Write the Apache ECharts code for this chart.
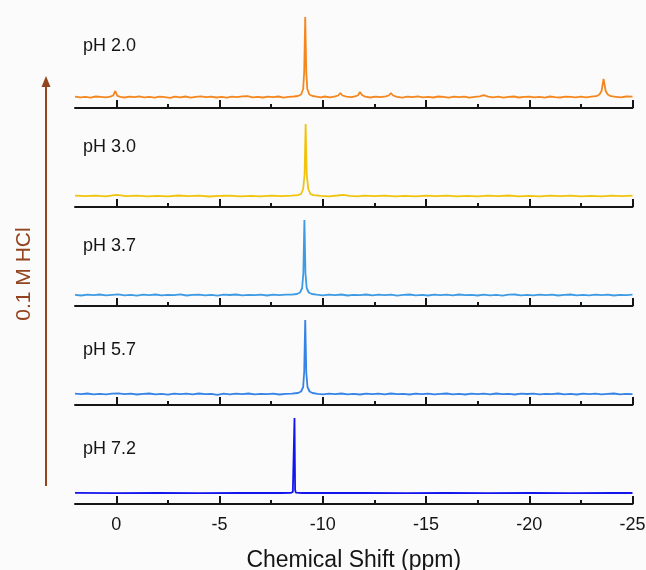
<!DOCTYPE html>
<html>
<head>
<meta charset="utf-8">
<script src="https://cdn.jsdelivr.net/npm/echarts@6/dist/echarts.min.js"></script>
<style>
  html, body { margin: 0; padding: 0; background: #ffffff; }
  #chart { width: 646px; height: 570px; }
</style>
</head>
<body>
<div id="chart"></div>
<script>
// Sample labels, top to bottom
const samples = ['pH 2.0', 'pH 3.0', 'pH 3.7', 'pH 5.7', 'pH 7.2'];

// Tick positions on the chemical-shift axis (ppm)
const majorTicks = [0, -5, -10, -15, -20, -25];
const minorTicks = [-2.5, -7.5, -12.5, -17.5, -22.5];

// Spectra as [chemical shift (ppm), intensity]
const specPH20 = [
  [2.0,0.4],[1.75,-0.3],[1.5,0.2],[1.25,-0.6],[1.0,0.5],[0.75,0.1],[0.5,-0.4],[0.3,0.3],[0.15,1.5],
  [0.05,6],[-0.05,1.2],[-0.2,0.2],[-0.4,-0.5],[-0.65,0.3],[-0.9,-0.2],[-1.1,0.6],[-1.35,-0.4],
  [-1.6,0.1],[-1.85,-0.7],[-2.1,0.4],[-2.35,-0.1],[-2.6,-0.8],[-2.85,0.3],[-3.1,-0.3],[-3.35,0.5],
  [-3.6,-0.6],[-3.85,0.2],[-4.1,0.7],[-4.35,-0.2],[-4.6,0.4],[-4.85,-0.5],[-5.1,0.1],[-5.35,-0.7],
  [-5.6,0.3],[-5.85,-0.1],[-6.1,0.6],[-6.35,0.9],[-6.6,-0.3],[-6.85,0.2],[-7.1,-0.5],[-7.35,0.4],
  [-7.6,-0.2],[-7.85,0.5],[-8.1,-0.6],[-8.35,0.2],[-8.6,0.5],[-8.8,1.0],[-8.95,2.5],[-9.05,8],
  [-9.1,25],[-9.15,80],[-9.2,25],[-9.25,8],[-9.35,2.5],[-9.5,1.0],[-9.7,0.4],[-9.9,-0.3],[-10.1,0.5],
  [-10.35,-0.4],[-10.6,0.6],[-10.75,1.5],[-10.85,4],[-10.95,1.5],[-11.15,0.3],[-11.4,-0.2],
  [-11.6,0.8],[-11.72,2],[-11.8,5],[-11.9,2],[-12.05,0.3],[-12.3,-0.5],[-12.55,0.3],[-12.8,-0.2],
  [-13.05,0.6],[-13.2,1.5],[-13.3,4],[-13.4,1.5],[-13.6,0.1],[-13.85,-0.6],[-14.1,0.3],[-14.35,-0.2],
  [-14.6,0.6],[-14.85,-0.4],[-15.1,0.2],[-15.35,-0.5],[-15.6,0.5],[-15.85,0.1],[-16.1,-0.6],
  [-16.35,0.3],[-16.6,-0.2],[-16.85,0.4],[-17.1,-0.7],[-17.35,0.2],[-17.6,0.6],[-17.8,1.8],
  [-18.0,0.3],[-18.25,-0.4],[-18.5,0.3],[-18.75,-0.6],[-19.0,0.2],[-19.25,0.5],[-19.5,-0.5],
  [-19.75,0.1],[-20.0,0.4],[-20.25,-0.3],[-20.5,0.2],[-20.75,-0.6],[-21.0,0.5],[-21.25,-0.1],
  [-21.5,-0.5],[-21.75,0.3],[-22.0,0.1],[-22.25,-0.4],[-22.5,0.4],[-22.75,-0.3],[-23.0,0.3],
  [-23.25,0.8],[-23.4,2.5],[-23.5,6],[-23.6,18],[-23.7,6],[-23.8,2.5],[-23.95,0.8],[-24.2,0.2],
  [-24.45,-0.4],[-24.7,0.5],[-25.0,0.3]
];
const specPH30 = [
  [2.0,0.3],[1.5,-0.2],[1.0,0.4],[0.5,-0.3],[0.0,1.2],[-0.5,-0.2],[-1.0,0.3],[-1.5,-0.4],[-2.0,0.2],
  [-2.5,-0.3],[-3.0,0.5],[-3.5,-0.2],[-4.0,0.3],[-4.5,-0.5],[-5.0,0.2],[-5.5,0.4],[-6.0,-0.3],
  [-6.5,0.2],[-7.0,-0.4],[-7.5,0.3],[-8.0,-0.2],[-8.5,0.4],[-8.8,0.8],[-8.95,2],[-9.05,7],[-9.12,22],
  [-9.17,72],[-9.22,22],[-9.3,7],[-9.4,2],[-9.55,0.8],[-9.9,0.2],[-10.3,-0.3],[-10.7,0.5],[-11.0,1.2],
  [-11.3,0.2],[-11.7,-0.4],[-12.0,0.3],[-12.5,-0.2],[-13.0,0.4],[-13.5,-0.3],[-14.0,0.2],[-14.5,-0.4],
  [-15.0,0.3],[-15.5,-0.2],[-16.0,0.4],[-16.5,-0.3],[-17.0,0.2],[-17.5,-0.4],[-18.0,0.3],[-18.5,-0.2],
  [-19.0,0.5],[-19.5,-0.3],[-20.0,0.2],[-20.5,-0.4],[-21.0,0.3],[-21.5,-0.2],[-22.0,0.4],[-22.5,-0.3],
  [-23.0,0.2],[-23.5,-0.4],[-24.0,0.3],[-24.5,-0.2],[-25.0,0.3]
];
const specPH37 = [
  [2.0,0.2],[1.7,-0.5],[1.4,0.3],[1.1,-0.1],[0.8,0.5],[0.5,-0.4],[0.2,0.1],[-0.1,0.6],[-0.4,-0.3],
  [-0.7,0.2],[-1.0,-0.6],[-1.3,0.4],[-1.6,-0.1],[-1.9,0.5],[-2.2,-0.4],[-2.5,0.2],[-2.8,-0.2],
  [-3.1,0.6],[-3.4,-0.5],[-3.7,0.1],[-4.0,0.4],[-4.3,-0.3],[-4.6,0.2],[-4.9,-0.6],[-5.2,0.3],
  [-5.5,0.0],[-5.8,0.5],[-6.1,-0.4],[-6.4,0.2],[-6.7,-0.2],[-7.0,0.4],[-7.3,-0.5],[-7.6,0.3],
  [-7.9,-0.1],[-8.2,0.4],[-8.5,0.3],[-8.75,1.0],[-8.9,2.5],[-9.0,7],[-9.06,22],[-9.11,75],
  [-9.16,22],[-9.22,7],[-9.32,2.5],[-9.47,1.0],[-9.7,0.3],[-10.0,-0.4],[-10.3,0.4],[-10.6,-0.2],
  [-10.9,0.5],[-11.2,-0.5],[-11.5,0.2],[-11.8,-0.1],[-12.1,0.5],[-12.4,-0.4],[-12.7,0.3],[-13.0,-0.2],
  [-13.3,0.4],[-13.6,-0.6],[-13.9,0.2],[-14.2,0.5],[-14.5,-0.3],[-14.8,0.1],[-15.1,-0.5],[-15.4,0.4],
  [-15.7,-0.2],[-16.0,0.3],[-16.3,-0.4],[-16.6,0.5],[-16.9,-0.1],[-17.2,0.2],[-17.5,-0.5],[-17.8,0.4],
  [-18.1,-0.3],[-18.4,0.2],[-18.7,-0.6],[-19.0,0.3],[-19.3,0.5],[-19.6,-0.3],[-19.9,0.1],[-20.2,-0.4],
  [-20.5,0.4],[-20.8,-0.2],[-21.1,0.3],[-21.4,-0.5],[-21.7,0.2],[-22.0,0.5],[-22.3,-0.3],[-22.6,0.1],
  [-22.9,-0.4],[-23.2,0.4],[-23.5,-0.2],[-23.8,0.3],[-24.1,-0.5],[-24.4,0.2],[-24.7,-0.1],[-25.0,0.3]
];
const specPH57 = [
  [2.0,0.3],[1.7,-0.2],[1.4,0.5],[1.1,-0.4],[0.8,0.1],[0.5,-0.3],[0.2,0.4],[-0.1,0.7],[-0.4,-0.2],
  [-0.7,0.3],[-1.0,-0.5],[-1.3,0.2],[-1.6,0.5],[-1.9,-0.3],[-2.2,0.1],[-2.5,-0.6],[-2.8,0.4],
  [-3.1,-0.1],[-3.4,0.3],[-3.7,-0.4],[-4.0,0.5],[-4.3,-0.2],[-4.6,0.2],[-4.9,-0.9],[-5.2,0.3],
  [-5.5,-0.3],[-5.8,0.4],[-6.1,-0.1],[-6.4,0.5],[-6.7,-0.4],[-7.0,0.2],[-7.3,-0.2],[-7.6,0.4],
  [-7.9,-0.5],[-8.2,0.2],[-8.5,0.3],[-8.8,1.0],[-8.95,2.5],[-9.05,7],[-9.1,22],[-9.15,74],[-9.2,22],
  [-9.26,7],[-9.36,2.5],[-9.5,1.0],[-9.75,0.2],[-10.0,-0.4],[-10.3,0.3],[-10.6,-0.1],[-10.9,0.5],
  [-11.2,-0.3],[-11.5,0.2],[-11.8,-0.5],[-12.1,0.4],[-12.4,-0.1],[-12.7,0.3],[-13.0,-0.4],[-13.3,0.5],
  [-13.6,-0.2],[-13.9,0.1],[-14.2,-0.5],[-14.5,0.4],[-14.8,-0.2],[-15.1,0.3],[-15.4,-0.4],[-15.7,0.2],
  [-16.0,0.5],[-16.3,-0.3],[-16.6,0.1],[-16.9,-0.5],[-17.2,0.4],[-17.5,-0.1],[-17.8,0.3],[-18.1,-0.4],
  [-18.4,0.5],[-18.7,-0.2],[-19.0,0.2],[-19.3,-0.5],[-19.6,0.3],[-19.9,0.0],[-20.2,0.4],[-20.5,-0.4],
  [-20.8,0.2],[-21.1,-0.2],[-21.4,0.5],[-21.7,-0.3],[-22.0,0.1],[-22.3,-0.5],[-22.6,0.4],[-22.9,-0.1],
  [-23.2,0.3],[-23.5,-0.4],[-23.8,0.2],[-24.1,0.5],[-24.4,-0.3],[-24.7,0.1],[-25.0,-0.2]
];
const specPH72 = [
  [2.0,0.1],[0.0,-0.1],[-2.0,0.1],[-4.0,-0.1],[-6.0,0.1],[-8.0,0],[-8.45,0.2],[-8.55,1.0],
  [-8.6,3],[-8.63,75],[-8.66,3],[-8.7,0.3],[-9.0,0],[-10.0,0],[-12.0,0.1],[-14.0,-0.1],
  [-16.0,0.1],[-18.0,-0.1],[-20.0,0.1],[-22.0,-0.1],[-24.0,0.1],[-25.0,0]
];
const spectra = [specPH20, specPH30, specPH37, specPH57, specPH72];

// Styling and layout
const lineColors = ['#F5871F', '#F0C40C', '#3E9BE3', '#3683E6', '#1414EE'];
const axisRows = [108, 207, 306, 405, 504];   // pixel row of each panel's axis line
const panelHeight = 95;
const labelRows = [46, 147, 246, 350, 449];
const FONT = '"Liberation Sans", Arial, sans-serif';
const INK = '#151515';
const BROWN = '#93441F';

const grid = [], xAxis = [], yAxis = [], series = [];
axisRows.forEach((row, i) => {
  const last = i === axisRows.length - 1;
  grid.push({ left: 75, right: 13.5, top: row - panelHeight, height: panelHeight,
              containLabel: false, outerBoundsMode: 'none' });
  // main axis: line, major ticks, labels on the bottom panel
  xAxis.push({
    gridIndex: i, type: 'value', min: -25, max: 2, inverse: true, position: 'bottom',
    axisLine: { show: true, onZero: false, lineStyle: { color: INK, width: 2 } },
    axisTick: { show: true, inside: true, length: 8, customValues: majorTicks,
                lineStyle: { color: INK, width: 2 } },
    axisLabel: { show: last, customValues: majorTicks, margin: 12,
                 fontSize: 18, fontFamily: FONT, color: INK },
    splitLine: { show: false },
    name: last ? 'Chemical Shift (ppm)' : '',
    nameLocation: 'middle', nameGap: 45,
    nameTextStyle: { fontSize: 23, fontFamily: FONT, color: INK }
  });
  // companion axis carrying the short minor ticks
  xAxis.push({
    gridIndex: i, type: 'value', min: -25, max: 2, inverse: true, position: 'bottom',
    axisLine: { show: false, onZero: false },
    axisTick: { show: true, inside: true, length: 4, customValues: minorTicks,
                lineStyle: { color: INK, width: 2 } },
    axisLabel: { show: false },
    splitLine: { show: false }
  });
  yAxis.push({ gridIndex: i, type: 'value', min: -11, max: 84, show: false });
  series.push({
    type: 'line', name: samples[i], xAxisIndex: 2 * i, yAxisIndex: i,
    data: spectra[i], showSymbol: false, symbol: 'none', clip: false,
    lineStyle: { color: lineColors[i], width: 1.8 }, z: 3
  });
});

const graphic = [
  { type: 'line', shape: { x1: 46, y1: 486, x2: 46, y2: 84 },
    style: { stroke: BROWN, lineWidth: 2 } },
  { type: 'polygon', shape: { points: [[46, 76], [41.5, 87], [50.5, 87]] },
    style: { fill: BROWN } },
  { type: 'text', x: 24, y: 274, rotation: Math.PI / 2,
    style: { text: '0.1 M HCl', font: '21px ' + FONT, fill: BROWN,
             align: 'center', verticalAlign: 'middle' } }
];
samples.forEach((s, i) => {
  graphic.push({ type: 'text', x: 83, y: labelRows[i],
    style: { text: s, font: '18px ' + FONT, fill: INK, align: 'left', verticalAlign: 'middle' } });
});

const chart = echarts.init(document.getElementById('chart'), null, { renderer: 'canvas' });
chart.setOption({
  backgroundColor: '#fbfbfb',
  animation: false,
  grid, xAxis, yAxis, series, graphic
});
</script>
</body>
</html>
